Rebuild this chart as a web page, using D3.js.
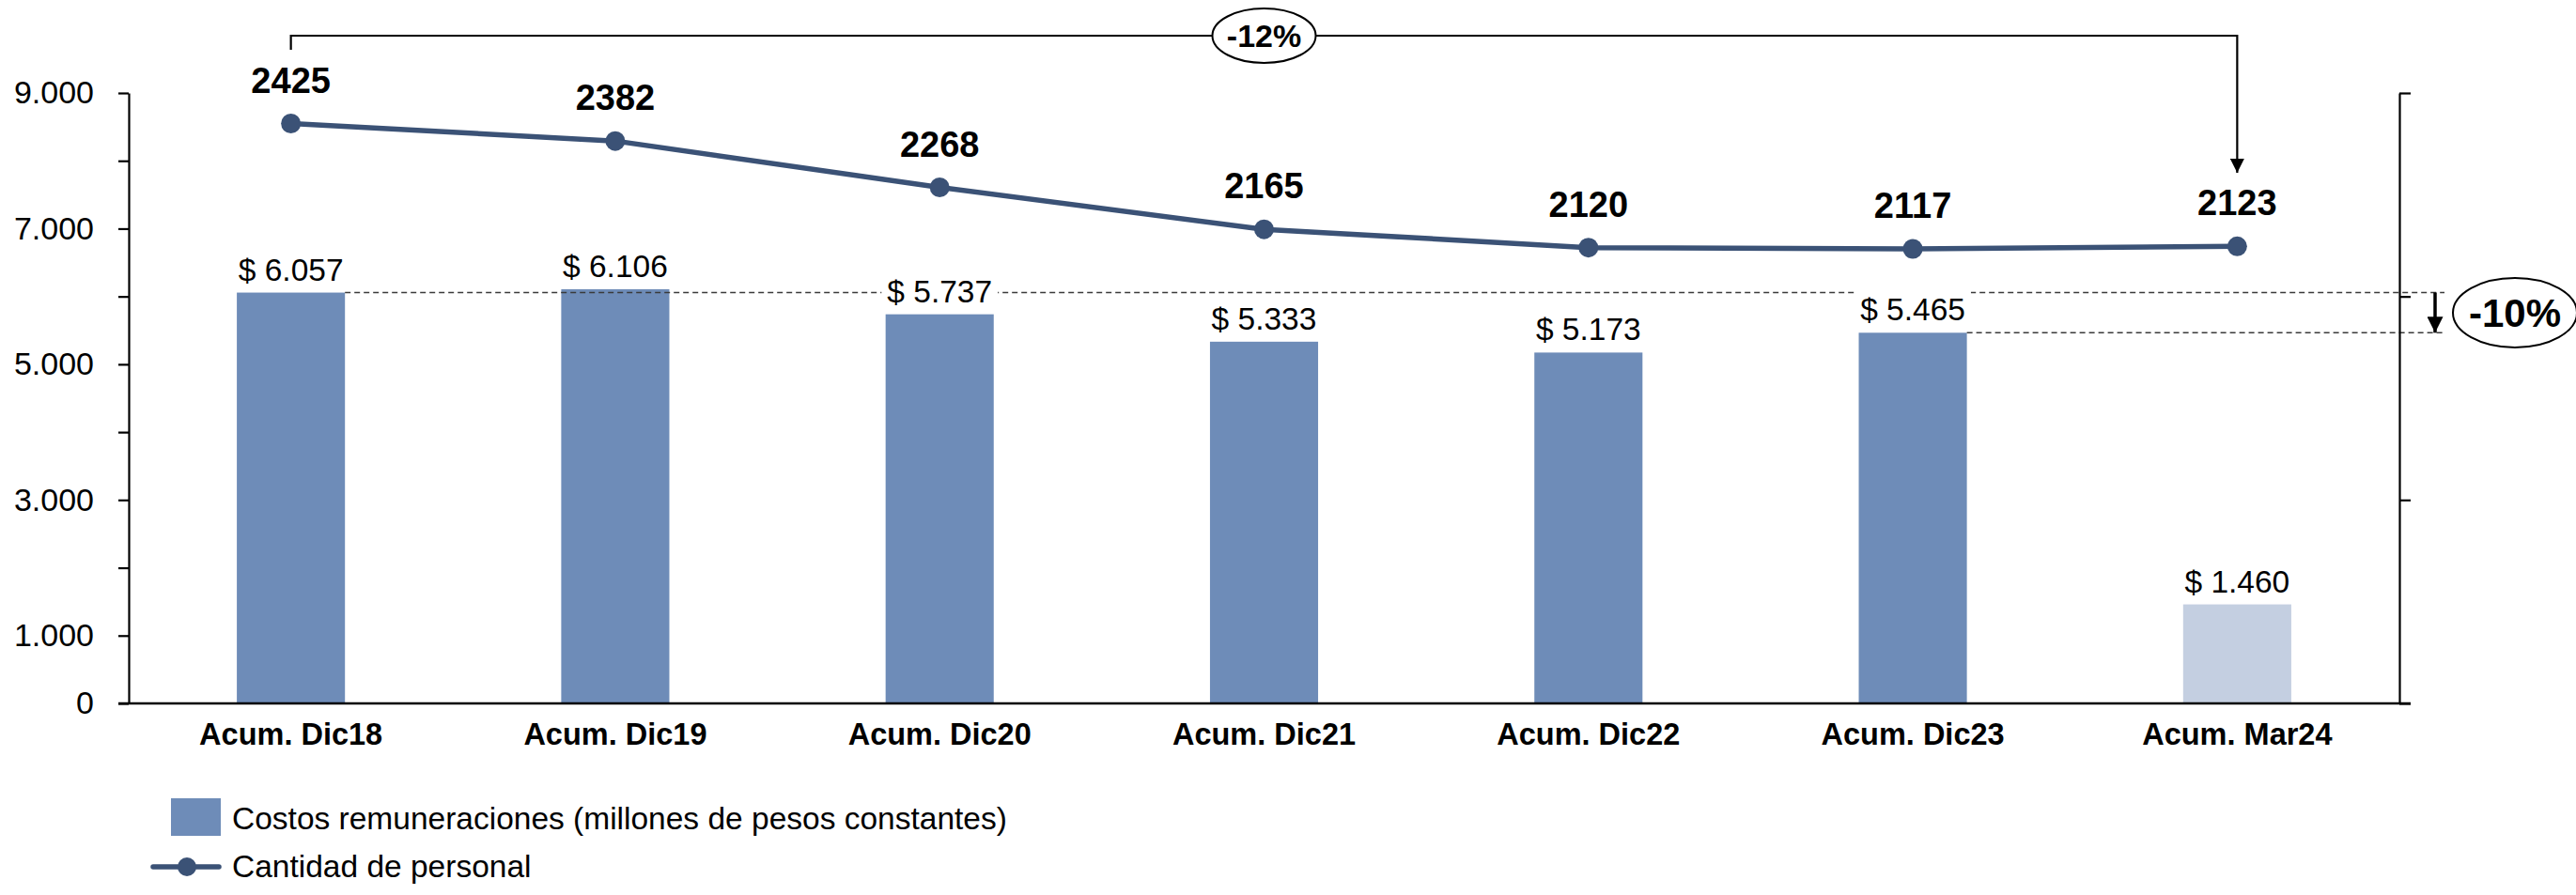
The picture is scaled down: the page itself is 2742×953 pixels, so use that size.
<!DOCTYPE html>
<html>
<head>
<meta charset="utf-8">
<script src="https://cdn.jsdelivr.net/npm/d3@7"></script>
<style>
  html, body { margin: 0; padding: 0; background: #fff; }
  svg { display: block; font-family: "Liberation Sans", Arial, sans-serif; }
</style>
</head>
<body>
<svg id="chart" width="2742" height="953"></svg>
<script>
// ---- Data ----
const categories = ["Acum. Dic18", "Acum. Dic19", "Acum. Dic20", "Acum. Dic21", "Acum. Dic22", "Acum. Dic23", "Acum. Mar24"];
const costos = [6057, 6106, 5737, 5333, 5173, 5465, 1460];
const personal = [2425, 2382, 2268, 2165, 2120, 2117, 2123];
const yTicks = [0, 1000, 2000, 3000, 4000, 5000, 6000, 7000, 8000, 9000];
const yTickLabels = [0, 1000, 3000, 5000, 7000, 9000];
const y2Ticks = [1000, 1500, 2000, 2500];
const seriesNames = ["Costos remuneraciones (millones de pesos constantes)", "Cantidad de personal"];
const pctPersonal = "-12%";
const pctCostos = "-10%";

// ---- Styles ----
const barColor = "#6E8CB8";
const barColorLight = "#C4CFE1";
const lineColor = "#3B5276";

const svg = d3.select("#chart");
const locale = d3.formatLocale({decimal: ",", thousands: ".", grouping: [3], currency: ["$ ", ""]});
const fmt = locale.format(",d");

const x = d3.scaleBand().domain(categories).range([137, 2554]).padding(0);
const y = d3.scaleLinear().domain([0, 9000]).range([749, 99]);
const y2 = d3.scaleLinear().domain([1000, 2500]).range([749, 99]);
const bw = x.bandwidth() / 3;
const cx = c => x(c) + x.bandwidth() / 2;

// ---- Bars ----
svg.append("g").selectAll("rect").data(categories).join("rect")
  .attr("x", c => cx(c) - bw / 2)
  .attr("width", bw)
  .attr("y", (c, i) => y(costos[i]))
  .attr("height", (c, i) => y(0) - y(costos[i]))
  .attr("fill", (c, i) => i === categories.length - 1 ? barColorLight : barColor);

// ---- Dashed reference lines ----
const iFirst = 0, iLast = 5;
svg.append("line")
  .attr("x1", cx(categories[iFirst]) + bw / 2).attr("x2", 2602)
  .attr("y1", y(costos[iFirst])).attr("y2", y(costos[iFirst]))
  .attr("stroke", "#3a3a3a").attr("stroke-width", 1.5).attr("stroke-dasharray", "6,4");
svg.append("line")
  .attr("x1", cx(categories[iLast]) + bw / 2).attr("x2", 2602)
  .attr("y1", y(costos[iLast])).attr("y2", y(costos[iLast]))
  .attr("stroke", "#3a3a3a").attr("stroke-width", 1.5).attr("stroke-dasharray", "6,4");

// ---- Bar labels with white background ----
const barLabels = svg.append("g");
categories.forEach((c, i) => {
  const g = barLabels.append("g");
  const t = g.append("text")
    .attr("x", cx(c)).attr("y", y(costos[i]) - 13)
    .attr("text-anchor", "middle")
    .attr("font-size", 33.5)
    .attr("fill", "#000")
    .text("$ " + fmt(costos[i]));
  const bb = t.node().getBBox();
  g.insert("rect", "text")
    .attr("x", bb.x - 6).attr("y", bb.y - 3)
    .attr("width", bb.width + 12).attr("height", bb.height + 3)
    .attr("fill", "#fff");
});

// ---- Axes ----
const axL = svg.append("g").attr("transform", "translate(137,0)")
  .call(d3.axisLeft(y).tickValues(yTicks).tickSize(11).tickSizeOuter(0).tickPadding(26)
    .tickFormat(d => yTickLabels.includes(d) ? fmt(d) : ""));
axL.selectAll("text").attr("font-size", 34).attr("font-family", "Liberation Sans, Arial, sans-serif").attr("fill", "#000");
axL.selectAll("line, path").attr("stroke", "#000").attr("stroke-width", 2.2);

const axR = svg.append("g").attr("transform", "translate(2554,0)")
  .call(d3.axisRight(y2).tickValues(y2Ticks).tickSize(12).tickSizeOuter(0).tickFormat(""));
axR.selectAll("line, path").attr("stroke", "#000").attr("stroke-width", 2.2);

const axB = svg.append("g").attr("transform", "translate(0,749)")
  .call(d3.axisBottom(x).tickSize(0).tickSizeOuter(0));
axB.select("path.domain").attr("d", "M126,0H2566").attr("stroke", "#000").attr("stroke-width", 2.6);
axB.selectAll("text").attr("y", 44).attr("dy", null)
  .attr("font-size", 32.5).attr("font-weight", "bold")
  .attr("font-family", "Liberation Sans, Arial, sans-serif").attr("fill", "#000");

// ---- Line series ----
const line = d3.line().x((d, i) => cx(categories[i])).y(d => y2(d));
svg.append("path").datum(personal)
  .attr("d", line).attr("fill", "none")
  .attr("stroke", lineColor).attr("stroke-width", 5.5).attr("stroke-linejoin", "round");
svg.append("g").selectAll("circle").data(personal).join("circle")
  .attr("cx", (d, i) => cx(categories[i])).attr("cy", d => y2(d)).attr("r", 10.5)
  .attr("fill", lineColor);
svg.append("g").selectAll("text").data(personal).join("text")
  .attr("x", (d, i) => cx(categories[i])).attr("y", d => y2(d) - 33)
  .attr("text-anchor", "middle").attr("font-size", 38).attr("font-weight", "bold")
  .attr("fill", "#000").text(d => d);

// ---- Markers ----
const defs = svg.append("defs");
defs.append("marker").attr("id", "arrowA").attr("viewBox", "0 0 10 10")
  .attr("refX", 10).attr("refY", 5).attr("markerWidth", 15).attr("markerHeight", 15)
  .attr("markerUnits", "userSpaceOnUse").attr("orient", "auto")
  .append("path").attr("d", "M0,0L10,5L0,10Z").attr("fill", "#000");
defs.append("marker").attr("id", "arrowB").attr("viewBox", "0 0 10 10")
  .attr("refX", 10).attr("refY", 5).attr("markerWidth", 17).attr("markerHeight", 17)
  .attr("markerUnits", "userSpaceOnUse").attr("orient", "auto")
  .append("path").attr("d", "M0,0L10,5L0,10Z").attr("fill", "#000");

// ---- -12% bracket ----
const xA = cx(categories[0]), xB = cx(categories[categories.length - 1]);
const yBr = 38;
svg.append("path")
  .attr("d", `M${xA},53V${yBr}H${xB}V184`)
  .attr("fill", "none").attr("stroke", "#000").attr("stroke-width", 2.2)
  .attr("marker-end", "url(#arrowA)");
const midX = (xA + xB) / 2;
svg.append("ellipse").attr("cx", midX).attr("cy", yBr).attr("rx", 55).attr("ry", 29)
  .attr("fill", "#fff").attr("stroke", "#000").attr("stroke-width", 2);
svg.append("text").attr("x", midX).attr("y", yBr + 12)
  .attr("text-anchor", "middle").attr("font-size", 34).attr("font-weight", "bold")
  .text(pctPersonal);

// ---- -10% arrow ----
svg.append("line").attr("x1", 2592).attr("x2", 2592)
  .attr("y1", y(costos[iFirst])).attr("y2", y(costos[iLast]))
  .attr("stroke", "#000").attr("stroke-width", 3.5)
  .attr("marker-end", "url(#arrowB)");
svg.append("ellipse").attr("cx", 2677).attr("cy", 333).attr("rx", 66).attr("ry", 37)
  .attr("fill", "#fff").attr("stroke", "#000").attr("stroke-width", 2);
svg.append("text").attr("x", 2677).attr("y", 348)
  .attr("text-anchor", "middle").attr("font-size", 42).attr("font-weight", "bold")
  .text(pctCostos);

// ---- Legend ----
const lg = svg.append("g");
lg.append("rect").attr("x", 182).attr("y", 850).attr("width", 53).attr("height", 40).attr("fill", barColor);
lg.append("text").attr("x", 247).attr("y", 883).attr("font-size", 33.5).attr("fill", "#000").text(seriesNames[0]);
lg.append("line").attr("x1", 163).attr("x2", 233).attr("y1", 923).attr("y2", 923)
  .attr("stroke", lineColor).attr("stroke-width", 5.5).attr("stroke-linecap", "round");
lg.append("circle").attr("cx", 199).attr("cy", 923).attr("r", 10).attr("fill", lineColor);
lg.append("text").attr("x", 247).attr("y", 934).attr("font-size", 33.5).attr("fill", "#000").text(seriesNames[1]);
</script>
</body>
</html>
